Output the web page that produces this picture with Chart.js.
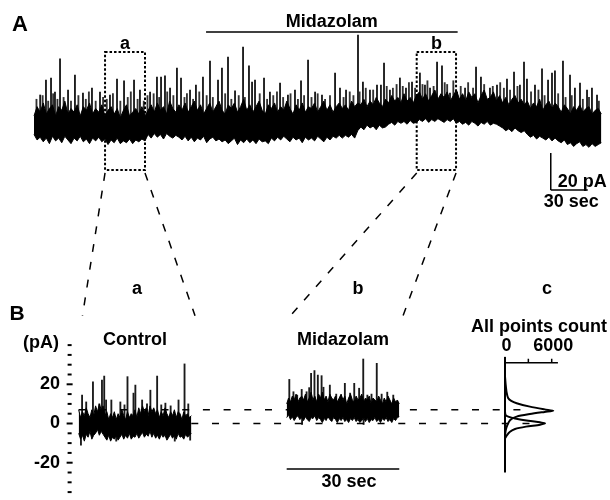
<!DOCTYPE html>
<html>
<head>
<meta charset="utf-8">
<script src="https://cdn.jsdelivr.net/npm/chart.js@4.4.1/dist/chart.umd.min.js"></script>
<style>
  html, body { margin: 0; padding: 0; background: #fff; }
  #wrap { width: 610px; height: 500px; }
</style>
</head>
<body>
<div id="wrap"><canvas id="fig" width="610" height="500"></canvas></div>
<script>
// Panel A - whole recording: edges of the noise band (pA) every 2.5 s, plus spikes
const timeA = [0,2.5,5,7.5,10,12.5,15,17.5,20,22.5, 25,27.5,30,32.5,35,37.5,40,42.5,45,47.5,
  50,52.5,55,57.5,60,62.5,65,67.5,70,72.5, 75,77.5,80,82.5,85,87.5,90,92.5,95,97.5,
  100,102.5,105,107.5,110,112.5,115,117.5,120,122.5, 125,127.5,130,132.5,135,137.5,140,142.5,145,147.5,
  150,152.5,155,157.5,160,162.5,165,167.5,170,172.5, 175,177.5,180,182.5,185,187.5,190,192.5,195,197.5,
  200,202.5,205,207.5,210,212.5,215,217.5,220,222.5, 225,227.5,230,232.5,235,237.5,240,242.5,245,247.5,
  250,252.5,255,257.5,260,262.5,265,267.5,270,272.5, 275,277.5,280,282.5,285,287.5,290,292.5,295,297.5,
  300,302.5,305,307.5,310,312.5,315,317.5,320,322.5, 325,327.5,330,332.5,335,337.5,340,342.5,345,347.5,
  350,352.5,355,357.5,360,362.5,365,367.5,370,372.5, 375,377.5,380,382.5,385,387.5,390,392.5,395,397.5,
  400,402.5,405,407.5,410,412.5,415,417.5,420,422.5, 425,427.5,430,432.5,435,437.5,440,442.5,445,447.5,
  450,452.5,455,457.5,460];
const upperA = [6,11,8,13,7,10,12,6,11,9, 14,7,10,8,12,6,11,9,13,7,
  10,8,12,6,9,11,7,10,5,9, 12,6,8,10,7,11,6,9,12,8,
  13,9,11,7,14,10,8,12,9,13, 8,11,14,9,12,7,10,13,8,11,
  14,9,7,12,10,13,8,11,15,9, 12,8,11,14,9,7,12,10,13,8,
  11,9,14,10,7,12,9,13,8,11, 10,13,8,11,14,9,12,8,11,13,
  10,12,9,14,11,13,12,15,11,14, 12,16,13,11,15,13,17,14,16,13,
  18,14,16,13,17,19,15,18,14,17, 20,15,18,16,19,14,17,20,15,18,
  14,19,16,18,13,17,20,15,16,19, 14,17,13,16,12,15,17,13,15,12,
  14,10,13,11,15,9,12,14,10,13, 11,8,12,10,7,11,9,12,8,10,
  11,7,9,10,7];
const lowerA = [-4,-7,-5.5,-8,-6,-9,-5,-7.5,-6,-8.5, -5,-7,-9,-6,-7.5,-5,-8,-6.5,-9,-6,
  -7.5,-5.5,-8,-6.5,-9.5,-7,-8.5,-6,-9,-7.5, -8.5,-6.5,-9,-7,-8,-6.5,-7.5,-4,-6,-3.5,
  -5.5,-4,-6.5,-3.5,-5,-6,-4.5,-5.5,-7,-5, -7.5,-5.5,-8,-6,-7,-5,-8.5,-6.5,-5.5,-7.5,
  -6.5,-8,-7,-9,-7.5,-6,-9.5,-7,-8.5,-6.5, -8.5,-7,-9,-6.5,-8,-7.5,-9,-6,-7.5,-5.5,
  -7,-5,-6.5,-8,-5.5,-7,-6,-8.5,-5.5,-7, -6,-7.5,-5,-6.5,-8,-5.5,-7,-5,-6,-4.5,
  -6,-4.5,-5.5,-4,-6,-2,0,-1.5,1,-0.5, 0.5,-1.5,1,-0.5,0,1.5,2.5,1,3,2,
  3,1.5,3.5,2,2.5,4,3,4.5,2.5,4, 3,4.5,3.5,2.5,4,3,4.5,2,3,1.5,
  2.5,1,3,2,0.5,2.5,1.5,3,1,2, 1.5,0.5,-0.5,-2,-1,-2.5,-0.5,-2,-3,-2,
  -4,-5.5,-4.5,-6.5,-5,-6,-7,-5.5,-7.5,-6, -7.5,-8.5,-7,-9.5,-8.5,-10.5,-9,-8,-10.5,-9.5,
  -11,-9,-10.5,-9.5,-8.5];
const spikeTimeA = [5,9.7,13.8,17,21.1,27.6,33.2,39.7,47,53.5,61.6,67.3,73,81.1,85.9,94.1,99.7,103,106.2,110.3,115.9,119.2,126.5,131.3,137,142.7,149.2,152.4,157.3,163,169.5,174.3,176.8,179.2,186.5,191.3,199.5,205.9,211.6,216.5,222.2,227.9,233.5,244.1,248.1,253,262.7,266.7,272.4,278.1,281.3,283.8,288.6,296.7,301.6,306.5,312.9,317,321.1,326.8,330.8,337.3,343,349.5,358.4,362.4,369.7,375.4,383.5,389.2,394,397.3,399.7,406.2,411.9,416.8,420,422.4,428.9,434.6,438.6,442.7,448.4,452.4,456.5];
const spikePeakA = [17.3,25.4,26.5,18.9,36.8,20,28.1,18.4,21.1,18.9,17.3,25.9,24.9,25.4,20,18.9,27,27,27.6,21.1,31.9,26.5,20,22.7,27,35.7,25.4,31.9,37.8,19.5,43.2,33,24.3,25.4,26.5,18.9,23.8,17.3,20,24.9,36.2,18.9,17.3,29.2,21.1,20,49.7,24.3,20,22.7,22.7,34.6,20,26.5,21.1,24.3,29.2,22.7,21.1,35.1,33,18.4,18.9,21.1,32.4,27,21.1,22.7,25.9,29.7,22.7,35.1,25.9,22.7,31.4,25.4,29.2,30.3,35.7,28.1,21.1,23.8,20,21.1,17.3];
// small openings that make the hairy top of the band
const hairTimeA = [2,7,11.5,15.5,19,24,30,36,42,44.5,50,56,59,64,70,76,78.5,84,89,92,97,101.5,108,113,122,124,129,134,140,145,155,160,166,171,183,189,194,197,202,208,214,219,225,230,236,240,251,256,259,264,269,275,286,291,294,299,304,309,315,319,324,333,335,340,346,352,356,365,372,378,381,386,392,403,409,414,425,431,436,445,450,458];
const hairPeakA = [15,17,14,18,15,16,14,17,15,19,14,16,15,18,14,16,19,15,14,17,18,16,19,17,16,18,15,19,17,16,18,15,17,16,18,15,17,19,16,18,15,17,16,18,15,17,16,19,17,19,21,20,22,21,23,22,24,21,23,25,22,24,23,25,22,24,21,23,22,24,21,20,22,19,20,17,18,16,17,15,16,14];
const SPIKE_BASE_A = 5;

const DRUG_ON = [139.5, 343.5];             // s, midazolam application
const BOXES = [[57.6, 90], [310.3, 342.2]]; // s, windows a and b
const BOX_LABELS = ['a', 'b'];

// Panel B - 30 s segments, band edges every 0.5 s (pA)
const timeB = [0,0.5,1,1.5,2,2.5,3,3.5,4,4.5,5,5.5,6,6.5,7,7.5,8,8.5,9,9.5,10,10.5,11,11.5,12,12.5,13,13.5,14,14.5,
  15,15.5,16,16.5,17,17.5,18,18.5,19,19.5,20,20.5,21,21.5,22,22.5,23,23.5,24,24.5,25,25.5,26,26.5,27,27.5,28,28.5,29,29.5,30];
const ctrlUpper = [7,3,6,4,8,5,3,7,4,9, 6,10,7,9,4,6,2,5,3,6, 2,5,3,7,4,2,6,3,5,4,
  7,3,8,5,9,6,8,4,9,6, 8,5,7,3,6,4,8,5,3,6, 4,7,3,6,5,2,6,4,5,3, 4];
const ctrlLower = [-5,-8,-6,-9,-5.5,-7,-4,-8,-6,-5, -3,-6,-4,-5.5,-7,-8.5,-6,-9,-7,-8, -6,-8.5,-7,-5.5,-8,-6,-7.5,-5,-8,-6.5,
  -7,-5,-7.5,-6,-4.5,-7,-5.5,-6.5,-4,-7, -5,-7.5,-6,-8,-5.5,-7,-6,-8.5,-7,-5.5, -7.5,-6,-8,-5,-7,-6.5,-8,-5.5,-7,-6, -5];
const ctrlSpikeTime = [0.6,0.9,2.0,3.8,5.5,6.2,6.8,7.3,8.7,10.0,11.1,12.2,13.0,14.6,15.1,16.9,18.2,19.1,20.9,22.0,23.1,24.5,25.6,26.6,28.2,29.2,29.7];
const ctrlSpikePeak = [-11,14.5,11,21.3,10,22.2,24.2,12,12,-9,11,9.5,23.9,15.5,19.6,12,10,17,24.2,9.5,10.4,9,-9,12,30.4,10,-8.5];
const midaUpper = [10,13,11,14,12,15,11,13,14,12, 15,11,13,16,12,14,11,15,13,16, 12,14,11,15,13,12,14,11,13,15,
  12,14,10,13,15,12,11,14,12,13, 15,11,13,12,14,10,13,12,11,14, 12,10,13,11,14,12,10,13,11,12, 10];
const midaLower = [3,4.5,2,3.5,1.5,3,4,2,3,1.5, 3.5,2,1,3,2.5,4,1.5,3,2,0.5, 2.5,1.5,3.5,2,1,3,2,0.5,2.5,1.5,
  3,1,2,0.5,2.5,1.5,3,1,2,0.5, 1.5,3,1,2.5,0.5,2,1.5,3,1,2, 0.5,2.5,1.5,3,1,2,0.5,2.5,1.5,3, 3.5];
const midaSpikeTime = [0.7,1.8,2.8,4.0,4.1,5.3,6.0,6.5,7.4,8.3,9.3,9.8,11.5,13.2,15.5,16.9,18.0,19.3,20.4,20.5,21.5,22.6,24.0,25.3,26.8,28.4];
const midaSpikePeak = [22.5,16.2,14.5,17.4,-0.5,16.2,18.3,25.6,27,24.7,24.4,18.5,19.6,15,20.5,15.5,20.5,18,32.9,-0.5,14.5,15,30.7,15,16,14.5];
const LEVELS = [7, 0];                      // pA, mean current midazolam / control
const TICKS_B = [40,35,30,25,20,15,10,5,0,-5,-10,-15,-20,-25,-30,-35];
const MAJOR_B = [20, 0, -20];

// Panel c - all points histogram (current pA vs count)
const histMidaCurrent = [24,20,16,13,11.5,10.3,8.6,7.2,6.5,5.9,4.8,3.5,1.8,-0.8,-3.3,-6];
const histMidaCount = [0,80,200,400,800,1500,3200,5100,6200,5100,3200,1500,670,300,100,0];
const histCtrlCurrent = [6,4.3,3.4,2.6,1.4,0.6,0.1,-0.6,-1.6,-2.8,-4.2,-5.9,-7.6];
const histCtrlCount = [0,80,500,1290,3000,4500,5140,4500,2700,1290,640,260,0];
const HIST_TICKS = [0, 3000, 6000];
const HIST_LABELS = ['0', '', '6000'];

const FONT = '"Liberation Sans", Arial, Helvetica, sans-serif';

const pts = (xs, ys) => xs.map((x, i) => ({ x: x, y: ys[i] }));
const bars = (xs, ys, base) => xs.map((x, i) => ({ x: x, y: [base, ys[i]] }));

function band(xId, yId, xs, up, lo) {
  return [
    { data: pts(xs, up), xAxisID: xId, yAxisID: yId, borderColor: '#000', borderWidth: 1, fill: false },
    { data: pts(xs, lo), xAxisID: xId, yAxisID: yId, borderColor: '#000', borderWidth: 1, fill: '-1', backgroundColor: '#000' }
  ];
}
function spikes(xId, yId, xs, ys, base, color) {
  return { type: 'bar', data: bars(xs, ys, base), xAxisID: xId, yAxisID: yId,
    backgroundColor: color || '#1a1a1a', borderWidth: 0, barThickness: 1.2, grouped: false };
}

const figurePlugin = {
  id: 'figure',
  afterDraw(chart) {
    const { ctx, scales: s } = chart;
    const P = (id, v) => s[id].getPixelForValue(v);
    const line = (x1, y1, x2, y2, w, dash) => {
      ctx.save();
      ctx.strokeStyle = '#000'; ctx.lineWidth = w; ctx.setLineDash(dash || []);
      ctx.beginPath(); ctx.moveTo(x1, y1); ctx.lineTo(x2, y2); ctx.stroke();
      ctx.restore();
    };
    const text = (str, x, y, size, align) => {
      ctx.save();
      ctx.fillStyle = '#000'; ctx.font = 'bold ' + size + 'px ' + FONT;
      ctx.textAlign = align || 'center'; ctx.textBaseline = 'middle';
      ctx.fillText(str, x, y);
      ctx.restore();
    };

    // ---- A
    text('A', 20, 25, 22);
    const drugY = P('yA', 51.4);
    line(P('xA', DRUG_ON[0]), drugY, P('xA', DRUG_ON[1]), drugY, 1.5);
    text('Midazolam', (P('xA', DRUG_ON[0]) + P('xA', DRUG_ON[1])) / 2, drugY - 10, 18);

    const boxTop = P('yA', 40.5), boxBot = P('yA', -23.2), joinY = P('yB', 55);
    const targets = ['xBa', 'xBb'];
    BOXES.forEach(([t0, t1], i) => {
      const l = P('xA', t0), r = P('xA', t1);
      ctx.save();
      ctx.strokeStyle = '#000'; ctx.lineWidth = 2; ctx.setLineDash([2.5, 2]);
      ctx.strokeRect(l, boxTop, r - l, boxBot - boxTop);
      ctx.restore();
      text(BOX_LABELS[i], (l + r) / 2, boxTop - 8, 18);
      line(l, boxBot + 3, P(targets[i], 1), joinY, 1.5, [8, 10]);
      line(r, boxBot + 3, P(targets[i], 31), joinY, 1.5, [8, 10]);
    });

    // scale bar 20 pA / 30 sec
    const sbx = P('xA', 419), sb0 = P('yA', -34), sb1 = P('yA', -14), sbx1 = P('xA', 449);
    line(sbx, sb1, sbx, sb0, 1.5);
    line(sbx, sb0, sbx1, sb0, 1.5);
    text('20 pA', sbx + 7, sb0 - 8, 18, 'left');
    text('30 sec', (sbx + sbx1) / 2 + 2, sb0 + 12, 18);

    // ---- B
    text('B', 17, 314, 21);
    text('a', 137, 289, 18);
    text('b', 358, 289, 18);
    text('c', 547, 289, 18);

    const axX = P('xBa', -2.42);
    TICKS_B.forEach(v => {
      const y = P('yB', v), major = MAJOR_B.includes(v);
      const h = major ? 3 : 2;
      line(axX - h, y, axX + h, y, 2);
      if (major) text(String(v), axX - 9.6, y, 18, 'right');
    });
    text('(pA)', axX - 10.6, P('yB', TICKS_B[0]) - 2, 18, 'right');

    text('Control', P('xBa', 15), P('yB', 42.5), 18);
    text('Midazolam', P('xBb', 15), P('yB', 42.5), 18);

    line(P('xBa', 0), P('yB', LEVELS[0]), P('xC', 2500), P('yB', LEVELS[0]), 1.5, [7, 13.7]);
    line(P('xBa', 30), P('yB', LEVELS[1]), P('xC', 4300), P('yB', LEVELS[1]), 1.5, [7, 13.7]);

    const sbY = P('yB', -23.2);
    line(P('xBb', 0), sbY, P('xBb', 30), sbY, 1.5);
    text('30 sec', (P('xBb', 0) + P('xBb', 30)) / 2 + 6, sbY + 13, 18);

    // histogram axes
    const c0 = P('xC', 0), hAxY = P('yB', 31);
    line(c0, P('yB', 34), c0, P('yB', -25), 2);
    line(c0, hAxY, P('xC', 6800), hAxY, 1.5);
    HIST_TICKS.forEach((v, i) => {
      const x = P('xC', v);
      if (v > 0) line(x, hAxY, x, hAxY - 4, 1.5);
      if (HIST_LABELS[i]) text(HIST_LABELS[i], x + 1.5, hAxY - 17, 18);
    });
    text('All points count', 539, hAxY - 36, 18);
  }
};

new Chart(document.getElementById('fig'), {
  type: 'line',
  data: {
    datasets: [
      ...band('xA', 'yA', timeA, upperA, lowerA),
      spikes('xA', 'yA', spikeTimeA, spikePeakA, SPIKE_BASE_A),
      spikes('xA', 'yA', hairTimeA, hairPeakA, SPIKE_BASE_A, '#333'),
      ...band('xBa', 'yB', timeB, ctrlUpper, ctrlLower),
      spikes('xBa', 'yB', ctrlSpikeTime, ctrlSpikePeak, LEVELS[1]),
      ...band('xBb', 'yB', timeB, midaUpper, midaLower),
      spikes('xBb', 'yB', midaSpikeTime, midaSpikePeak, LEVELS[0]),
      { data: pts(histMidaCount, histMidaCurrent), xAxisID: 'xC', yAxisID: 'yB', borderColor: '#000', borderWidth: 2, tension: 0.25, fill: false },
      { data: pts(histCtrlCount, histCtrlCurrent), xAxisID: 'xC', yAxisID: 'yB', borderColor: '#000', borderWidth: 2, tension: 0.25, fill: false }
    ]
  },
  options: {
    responsive: false,
    animation: false,
    events: [],
    layout: { padding: 0 },
    plugins: { legend: { display: false }, tooltip: { enabled: false }, title: { display: false } },
    elements: { point: { radius: 0 }, line: { tension: 0 } },
    scales: {
      xA: { type: 'linear', position: 'bottom', display: false, offset: false, min: -27.57, max: 467.03 },
      yA: { type: 'linear', position: 'left', display: false, min: -201.62, max: 68.65 },
      xBa: { type: 'linear', position: 'bottom', display: false, offset: false, min: -20.97, max: 141.57 },
      xBb: { type: 'linear', position: 'bottom', display: false, offset: false, min: -76.39, max: 86.15 },
      yB: { type: 'linear', position: 'left', display: false, min: -39.03, max: 216.07 },
      xC: { type: 'linear', position: 'bottom', display: false, offset: false, min: -64882, max: 13490 }
    }
  },
  plugins: [figurePlugin]
});
</script>
</body>
</html>
